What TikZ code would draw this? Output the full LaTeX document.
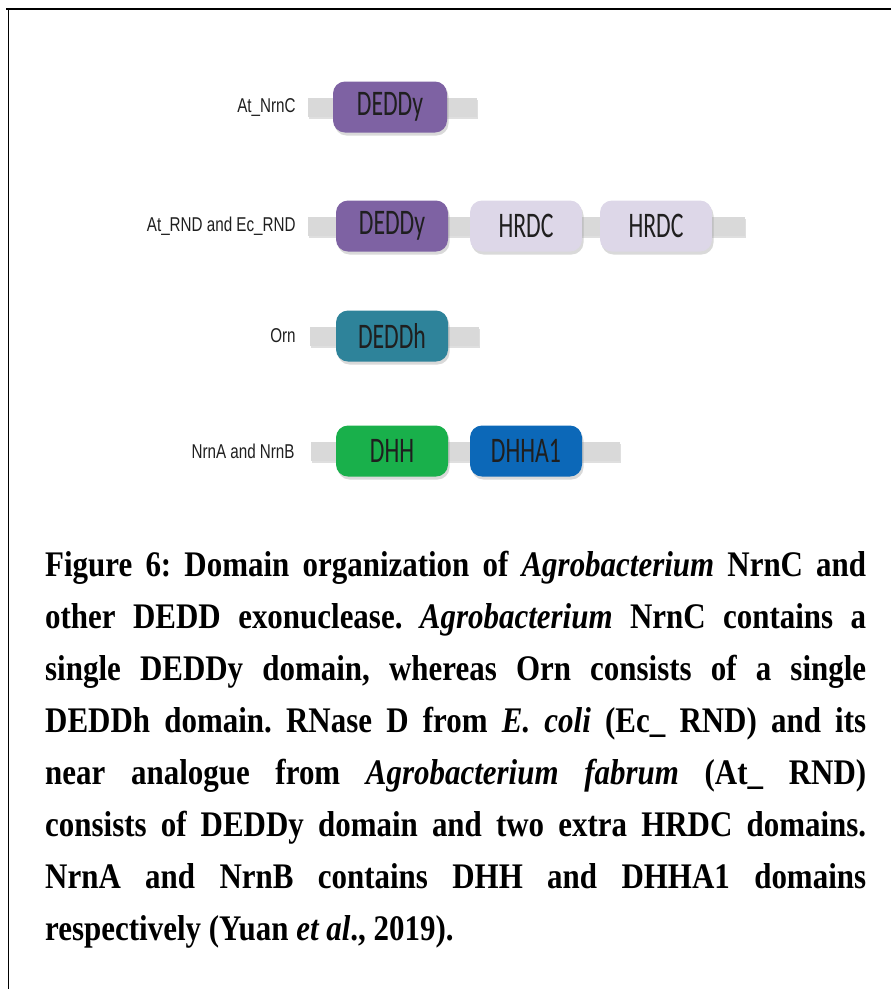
\documentclass[tikz,border=0pt]{standalone}
\usepackage{fontspec}
\setmainfont{Liberation Serif}[FakeStretch=0.86]
\newfontfamily\tagfont{Liberation Sans}[FakeStretch=0.76]
\newfontfamily\domfont{Carlito}[FakeStretch=0.66]
\usetikzlibrary{positioning, shadows}

\definecolor{deddy}{RGB}{126,98,163}
\definecolor{hrdc}{RGB}{221,215,232}
\definecolor{deddh}{RGB}{46,131,154}
\definecolor{dhh}{RGB}{25,176,75}
\definecolor{dhha}{RGB}{12,104,184}
\definecolor{chain}{RGB}{217,217,217}

\begin{document}
\frenchspacing
\begin{tikzpicture}[
    x=1pt, y=-1pt,
    node distance=134pt,
    chain/.style={rectangle, fill=chain, minimum height=19pt, inner sep=0pt, drop shadow={shadow xshift=1pt, shadow yshift=-2pt, opacity=0.25}},
    dombox/.style={rectangle, fill=deddy, rounded corners=12pt, minimum width=112pt, minimum height=51pt, inner sep=0pt, text=black!88, font=\domfont\fontsize{36}{36}\selectfont, drop shadow={shadow xshift=1.5pt, shadow yshift=-3pt, opacity=0.3}},
    tag/.style={inner sep=0pt, text=black!88, font=\tagfont\fontsize{20}{20}\selectfont},
    caption/.style={inner sep=0pt, text width=821pt, align=justify, font=\bfseries\fontsize{36}{52}\selectfont}
]
\useasboundingbox (0,0) rectangle (891,989);

% frame
\draw [line width=2.5pt] (6,9) -- (891,9);
\draw [line width=1.4pt] (8.5,9) -- (8.5,989);

% backbones
\node [chain, minimum width=169pt] (bar1) at (392.5,107) {};
\node [chain, minimum width=437pt] (bar2) at (526.5,226) {};
\node [chain, minimum width=169pt] (bar3) at (394.5,336) {};
\node [chain, minimum width=309pt] (bar4) at (465.5,451) {};

\node [tag, left=12pt of bar1] (lab1) {At\_NrnC};
\node [tag, left=12pt of bar2] (lab2) {At\_RND and Ec\_RND};
\node [tag, left=14pt of bar3] (lab3) {Orn};
\node [tag, left=16pt of bar4] (lab4) {NrnA and NrnB};

% domains
\node [dombox, minimum width=114pt] (nrnc) at (390,107) {DEDDy};

\node [dombox] (rnd) at (392,226) {DEDDy};
\node [dombox, fill=hrdc, right of=rnd] (hrdca) {HRDC};
\node [dombox, fill=hrdc, right of=hrdca, node distance=130pt] (hrdcb) {HRDC};

\node [dombox, fill=deddh] (orn) at (392,336) {DEDDh};

\node [dombox, fill=dhh] (dhh) at (392,451) {DHH};
\node [dombox, fill=dhha, right of=dhh] (dhha) {DHHA1};

% caption
\node [caption, anchor=north west] (cap) at (45,551) {Figure 6: Domain organization of \textit{Agrobacterium} NrnC and\linebreak
other DEDD exonuclease. \textit{Agrobacterium} NrnC contains a\linebreak
single DEDDy domain, whereas Orn consists of a single\linebreak
DEDDh domain. RNase D from \textit{E. coli} (Ec\_ RND) and its\linebreak
near analogue from \textit{Agrobacterium fabrum} (At\_ RND)\linebreak
consists of DEDDy domain and two extra HRDC domains.\linebreak
NrnA and NrnB contains DHH and DHHA1 domains\linebreak
respectively (Yuan \textit{et al}., 2019).};

\end{tikzpicture}
\end{document}
